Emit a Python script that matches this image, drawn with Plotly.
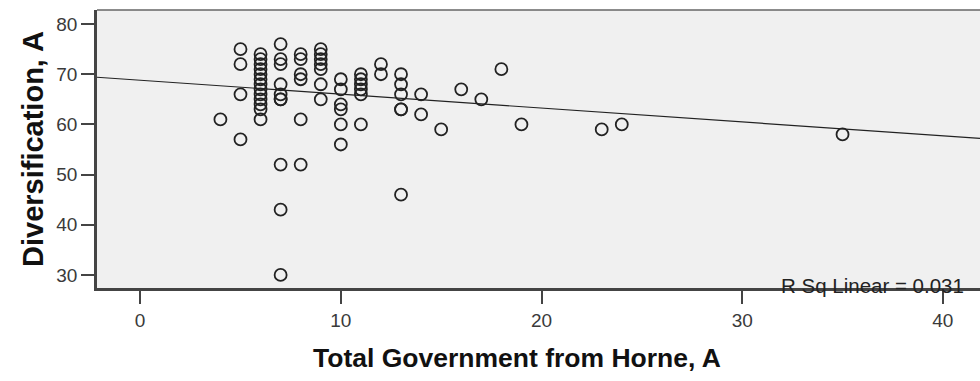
import plotly.graph_objects as go

# Total Government from Horne (x) and Diversification (y), one pair per case
gov_total = [4,
             5, 5, 5, 5,
             6, 6, 6, 6, 6, 6, 6, 6, 6, 6, 6, 6, 6,
             7, 7, 7, 7, 7, 7, 7, 7, 7, 7,
             8, 8, 8, 8, 8, 8,
             9, 9, 9, 9, 9, 9, 9,
             10, 10, 10, 10, 10, 10,
             11, 11, 11, 11, 11, 11,
             12, 12,
             13, 13, 13, 13, 13, 13,
             14, 14, 15, 16, 17, 18, 19, 23, 24, 35]
diversification = [61,
                   75, 72, 66, 57,
                   74, 73, 72, 71, 70, 69, 68, 67, 66, 65, 64, 63, 61,
                   76, 73, 72, 68, 66, 65, 65, 52, 43, 30,
                   74, 73, 70, 69, 61, 52,
                   75, 74, 73, 72, 71, 68, 65,
                   69, 67, 64, 63, 60, 56,
                   70, 69, 68, 67, 66, 60,
                   72, 70,
                   70, 68, 66, 63, 63, 46,
                   66, 62, 59, 67, 65, 71, 60, 59, 60, 58]

# Linear fit line
fit_intercept = 68.8
fit_slope = -0.277
r_sq_label = "R Sq Linear = 0.031"

x_title = "Total Government from Horne, A"
y_title = "Diversification, A"

x_range = [-2.15, 41.85]
y_range = [27.4, 82.8]
x_ticks = [0, 10, 20, 30, 40]
y_ticks = [30, 40, 50, 60, 70, 80]

fit_x = x_range
fit_y = [fit_intercept + fit_slope * v for v in fit_x]

FONT = "Liberation Sans, Arial, sans-serif"

fig = go.Figure()
fig.add_trace(go.Scatter(
    x=fit_x, y=fit_y, mode="lines",
    line=dict(color="#222222", width=1.2),
    hoverinfo="skip", showlegend=False,
))
fig.add_trace(go.Scatter(
    x=gov_total, y=diversification, mode="markers",
    marker=dict(symbol="circle-open", size=12, color="#222222",
                line=dict(width=1.8, color="#222222")),
    showlegend=False,
))

tick_font = dict(family=FONT, size=19, color="#3a3a3a")
fig.update_xaxes(
    range=x_range, tickvals=x_ticks, ticks="outside", ticklen=13, tickwidth=2,
    tickcolor="#444444", showgrid=False, zeroline=False,
    showline=True, linecolor="#444444", linewidth=2.5,
    tickfont=tick_font,
)
fig.update_yaxes(
    range=y_range, tickvals=y_ticks, ticks="outside", ticklen=13, tickwidth=2,
    tickcolor="#444444", showgrid=False, zeroline=False,
    showline=True, linecolor="#444444", linewidth=2.5,
    tickfont=tick_font,
)

plot_w = 980 - 97
plot_h = 288 - 10

fig.update_layout(
    width=980, height=381,
    margin=dict(l=97, r=0, t=10, b=93),
    plot_bgcolor="#f0f0f0", paper_bgcolor="white",
    shapes=[dict(type="line", xref="paper", yref="paper", x0=0, x1=1, y0=1, y1=1,
                 line=dict(color="#666666", width=1.5))],
    annotations=[
        dict(text="<b>" + x_title + "</b>", xref="paper", yref="paper",
             x=(517 - 97) / plot_w, y=(288 - 358) / plot_h,
             xanchor="center", yanchor="middle", showarrow=False,
             font=dict(family=FONT, size=26.5, color="#111111")),
        dict(text="<b>" + y_title + "</b>", xref="paper", yref="paper",
             x=(33 - 97) / plot_w, y=0.5, textangle=-90,
             xanchor="center", yanchor="middle", showarrow=False,
             font=dict(family=FONT, size=29, color="#111111")),
        dict(text=r_sq_label, xref="paper", yref="paper",
             x=(779 - 97) / plot_w, y=(288 - 285) / plot_h,
             xanchor="left", yanchor="middle", showarrow=False,
             font=dict(family=FONT, size=20.5, color="#222222")),
    ],
)

fig.write_html("out.html")
